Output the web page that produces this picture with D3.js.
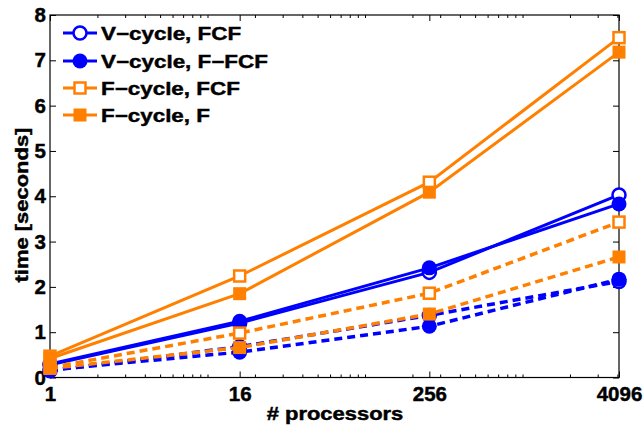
<!DOCTYPE html>
<html><head><meta charset="utf-8">
<script src="https://cdn.jsdelivr.net/npm/d3@7"></script>
<style>
body{margin:0;background:#fff;}
text{font-family:"Liberation Sans",Arial,Helvetica,sans-serif;font-weight:bold;stroke:#000;stroke-width:0.45px;}
</style></head>
<body><svg id="c" width="643" height="426"></svg>
<script>
const procs = [1, 16, 256, 4096];
const xTickLabels = ["1", "16", "256", "4096"];
const yTicks = [0, 1, 2, 3, 4, 5, 6, 7, 8];
const seriesNames = ["V\u2212cycle, FCF", "V\u2212cycle, F\u2212FCF", "F\u2212cycle, FCF", "F\u2212cycle, F"];
const vFCF_solid   = [0.28, 1.20, 2.32, 4.03];
const vFFCF_solid  = [0.30, 1.24, 2.42, 3.83];
const fFCF_solid   = [0.47, 2.24, 4.31, 7.50];
const fF_solid     = [0.42, 1.85, 4.09, 7.18];
const vFCF_dashed  = [0.15, 0.68, 1.37, 2.12];
const vFFCF_dashed = [0.17, 0.56, 1.13, 2.17];
const fFCF_dashed  = [0.22, 0.98, 1.86, 3.43];
const fF_dashed    = [0.20, 0.66, 1.40, 2.66];

const BLUE = "#0000ff", ORANGE = "#ff8000";
const styles = [
  {color: BLUE, shape: "circle", filled: false},
  {color: BLUE, shape: "circle", filled: true},
  {color: ORANGE, shape: "square", filled: false},
  {color: ORANGE, shape: "square", filled: true}
];
const solids = [vFCF_solid, vFFCF_solid, fFCF_solid, fF_solid];
const dashes = [vFCF_dashed, vFFCF_dashed, fFCF_dashed, fF_dashed];

const svg = d3.select("#c");
const L = 50, R = 619, T = 15, B = 377.5;
const x = d3.scaleLog().base(16).domain([1, 4096]).range([L, R]);
const y = d3.scaleLinear().domain([0, 8]).range([B, T]);

const minor = [];
for (let p = 1; p <= 1000; p *= 10) for (let m = 1; m < 10; m++) { const v = m * p; if (v > 1 && v < 4096 && !procs.includes(v)) minor.push(v); }

function styleAxis(g){ g.select(".domain").remove(); g.selectAll("line").attr("stroke","#000").attr("stroke-width",1); g.selectAll("text").attr("fill","#000"); }
function tickFont(sel){ sel.style("font-size","20.5px").style("font-family","Liberation Sans, Arial, sans-serif").style("font-weight","bold"); }

svg.append("g").attr("transform",`translate(0,${B})`).call(d3.axisBottom(x).tickValues(minor).tickSize(-3).tickFormat("")).call(styleAxis);
svg.append("g").attr("transform",`translate(0,${T})`).call(d3.axisTop(x).tickValues(minor).tickSize(-3).tickFormat("")).call(styleAxis);
svg.append("g").attr("transform",`translate(0,${B})`)
  .call(d3.axisBottom(x).tickValues(procs).tickSize(-6).tickPadding(9).tickFormat((d,i)=>xTickLabels[i]))
  .call(styleAxis).selectAll("text").call(tickFont);
svg.append("g").attr("transform",`translate(0,${T})`).call(d3.axisTop(x).tickValues(procs).tickSize(-6).tickFormat("")).call(styleAxis);
svg.append("g").attr("transform",`translate(${L},0)`)
  .call(d3.axisLeft(y).tickValues(yTicks).tickSize(-6).tickPadding(4).tickFormat(d3.format("d")))
  .call(styleAxis).selectAll("text").call(tickFont);
svg.append("g").attr("transform",`translate(${R},0)`).call(d3.axisRight(y).tickValues(yTicks).tickSize(-6).tickFormat("")).call(styleAxis);

svg.append("rect").attr("x",L).attr("y",T).attr("width",R-L).attr("height",B-T).attr("fill","none").attr("stroke","#000").attr("stroke-width",1.2);

const line = d3.line().x((d,i)=>x(procs[i])).y(d=>y(d));
const plot = svg.append("g");

function marker(g, st, cx, cy){
  if (st.shape === "circle") {
    g.append("circle").attr("cx",cx).attr("cy",cy).attr("r", st.filled ? 7.5 : 6.5)
      .attr("fill", st.filled ? st.color : "#fff").attr("stroke", st.color).attr("stroke-width", st.filled ? 0 : 2.5);
  } else {
    const s = st.filled ? 13 : 11;
    g.append("rect").attr("x",cx-s/2).attr("y",cy-s/2).attr("width",s).attr("height",s)
      .attr("fill", st.filled ? st.color : "#fff").attr("stroke", st.color).attr("stroke-width", st.filled ? 0 : 2.5);
  }
}

styles.forEach((st, k) => {
  [[solids[k], null], [dashes[k], "8,5"]].forEach(([vals, dash]) => {
    plot.append("path").datum(vals).attr("d", line).attr("fill","none")
      .attr("stroke", st.color).attr("stroke-width", dash ? 3.5 : 3).attr("stroke-dasharray", dash);
    vals.forEach((v,i) => marker(plot, st, x(procs[i]), y(v)));
  });
});

const leg = svg.append("g");
const rowsY = [33, 61, 88, 115];
seriesNames.forEach((name, k) => {
  const st = styles[k], ry = rowsY[k];
  leg.append("line").attr("x1",63).attr("x2",97).attr("y1",ry).attr("y2",ry).attr("stroke",st.color).attr("stroke-width",3.2);
  marker(leg, st, 80, ry);
  leg.append("text").attr("transform",`translate(101,${ry+7}) scale(1.18,1)`).style("font-size","19px").attr("fill","#000").text(name);
});

svg.append("text").attr("transform","translate(335,420) scale(1.22,1)").attr("text-anchor","middle").style("font-size","18px").text("# processors");
svg.append("text").attr("transform","translate(28,205) rotate(-90) scale(1.22,1)").attr("text-anchor","middle").style("font-size","18px").text("time [seconds]");
</script></body></html>
